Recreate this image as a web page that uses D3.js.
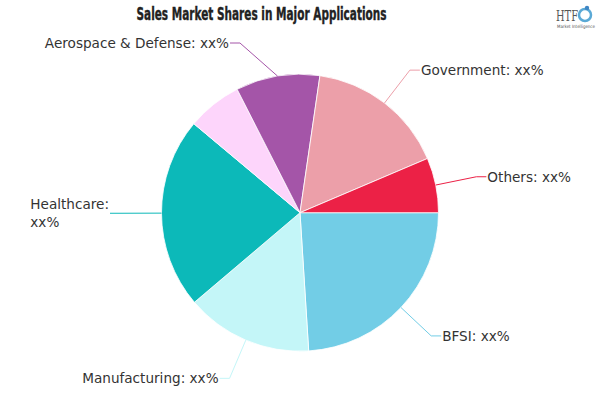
<!DOCTYPE html>
<html>
<head>
<meta charset="utf-8">
<script src="https://cdn.jsdelivr.net/npm/d3@7/dist/d3.min.js"></script>
<style>
  html, body { margin: 0; padding: 0; background: #fff; }
  svg { display: block; }
</style>
</head>
<body>
<svg id="chart" width="600" height="400"></svg>
<script>
// ---- data ----
const categories = ["BFSI", "Manufacturing", "Healthcare", "Retail", "Aerospace & Defense", "Government", "Others"];
const values = [24.0, 14.8, 22.3, 6.4, 9.8, 16.3, 6.4];
const valueLabels = ["xx%", "xx%", "xx%", "xx%", "xx%", "xx%", "xx%"];
const showLabel = [true, true, true, false, true, true, true];
const colors = ["#72CDE6", "#C4F6F8", "#0CB9B9", "#FDD5FB", "#A455A8", "#EC9FA9", "#EC2146"];
const title = "Sales Market Shares in Major Applications";

// ---- layout ----
const W = 600, H = 400;
const cx = 300, cy = 212.7, r = 138.5;
const elbowR = 180, len2 = 10, gap = 1, minLabelY = 43, sideMargin = 20;

const svg = d3.select("#chart");

const data = categories.map((c, i) => ({ name: c, value: values[i], label: valueLabels[i], show: showLabel[i], color: colors[i] }));

const pie = d3.pie().sort(null).value(d => d.value)
  .startAngle(Math.PI / 2).endAngle(Math.PI / 2 + 2 * Math.PI);
const arcs = pie(data);
const arcGen = d3.arc().innerRadius(0).outerRadius(r);

const g = svg.append("g").attr("transform", `translate(${cx},${cy})`);
g.selectAll("path.slice").data(arcs).join("path")
  .attr("class", "slice")
  .attr("d", arcGen)
  .attr("fill", d => d.data.color)
  .attr("stroke", "#fff")
  .attr("stroke-width", 0.8);

// ---- labels ----
const font = "'DejaVu Sans', Verdana, sans-serif";
const fontSize = 13.6;
const lg = svg.append("g");

const meas = svg.append("text").attr("font-family", font).attr("font-size", fontSize).attr("visibility", "hidden");
function textW(s) { meas.text(s); return meas.node().getComputedTextLength(); }

arcs.forEach(a => {
  if (!a.data.show) return;
  const m = (a.startAngle + a.endAngle) / 2;
  const sx = Math.sin(m), sy = -Math.cos(m);
  const p0 = [cx + r * sx, cy + r * sy];
  let p1 = [cx + elbowR * sx, cy + elbowR * sy];
  if (p1[1] < minLabelY) {
    const dy = minLabelY - cy;
    const dx = Math.sqrt(elbowR * elbowR - dy * dy);
    p1 = [cx + (sx < 0 ? -dx : dx), minLabelY];
  }
  const right = p1[0] >= cx;
  const p2 = [p1[0] + (right ? len2 : -len2), p1[1]];

  lg.append("polyline")
    .attr("points", [p0, p1, p2].map(p => p.join(",")).join(" "))
    .attr("fill", "none")
    .attr("stroke", a.data.color)
    .attr("stroke-width", 1);

  const full = `${a.data.name}: ${a.data.label}`;
  const tx = p2[0] + (right ? gap : -gap);
  const avail = right ? (W - sideMargin - tx) : (tx - sideMargin);
  let lines = [full];
  if (textW(full) > avail) lines = [`${a.data.name}:`, a.data.label];

  const t = lg.append("text")
    .attr("font-family", font)
    .attr("font-size", fontSize)
    .attr("fill", "#333");
  if (lines.length === 1) {
    t.attr("x", tx).attr("y", p1[1]).attr("dy", "0.35em")
      .attr("text-anchor", right ? "start" : "end").text(full);
  } else {
    const lh = 18.5;
    const maxW = d3.max(lines, textW);
    const x0 = right ? tx : tx - maxW;
    lines.forEach((ln, i) => {
      t.append("tspan").attr("x", x0)
        .attr("y", p1[1] + (i - (lines.length - 1) / 2) * lh)
        .attr("dy", "0.35em").text(ln);
    });
  }
});
meas.remove();

// ---- title ----
svg.append("text")
  .attr("x", 136.5).attr("y", 20)
  .attr("font-family", "'DejaVu Sans Condensed', 'DejaVu Sans', sans-serif")
  .attr("font-weight", "bold")
  .attr("font-size", 18)
  .attr("textLength", 250)
  .attr("lengthAdjust", "spacingAndGlyphs")
  .attr("fill", "#222")
  .attr("stroke", "#222")
  .attr("stroke-width", 0.4)
  .text(title);

// ---- logo ----
const logo = svg.append("g").attr("transform", "translate(556,3)");
logo.append("text").attr("x", 0).attr("y", 18)
  .attr("font-family", "'DejaVu Serif', serif").attr("font-size", 15)
  .attr("fill", "#555").attr("textLength", 22).attr("lengthAdjust", "spacingAndGlyphs").text("HTF");
logo.append("circle").attr("cx", 29).attr("cy", 12).attr("r", 6)
  .attr("fill", "none").attr("stroke", "#5aa9d6").attr("stroke-width", 2.5);
logo.append("circle").attr("cx", 31).attr("cy", 5).attr("r", 2.2).attr("fill", "#3f86c4");
logo.append("text").attr("x", 1).attr("y", 25)
  .attr("font-family", "'DejaVu Sans', sans-serif").attr("font-size", 4.5)
  .attr("fill", "#555").attr("textLength", 38).attr("lengthAdjust", "spacingAndGlyphs").text("Market Intelligence");
</script>
</body>
</html>
